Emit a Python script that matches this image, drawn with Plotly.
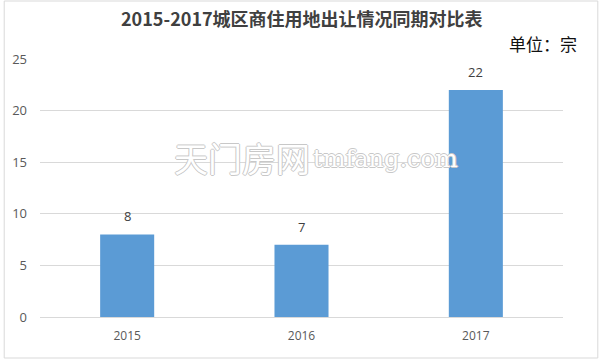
import plotly.graph_objects as go

categories = ["2015", "2016", "2017"]
values = [8, 7, 22]
y_ticks = [0, 5, 10, 15, 20, 25]

W, H = 600, 360
L, R, T, B = 37, 37, 59, 43
pw, ph = W - L - R, H - T - B

font_cn = "Noto Sans CJK SC, Noto Sans, sans-serif"
font_num = "Open Sans, Noto Sans, sans-serif"
outline = "1px 0 0 #c8c8c8, -1px 0 0 #c8c8c8, 0 1px 0 #c8c8c8, 0 -1px 0 #c8c8c8"

fig = go.Figure()
fig.add_trace(go.Bar(
    x=categories, y=values,
    marker=dict(color="#5b9bd5", line=dict(width=0)),
    cliponaxis=False,
))

annotations = [
    dict(text=str(v), x=i, y=v, xref="x", yref="y", yshift=18, showarrow=False,
         font=dict(size=13, color="#404040", family=font_num))
    for i, v in enumerate(values)
]
annotations += [
    dict(text="<b>2015-2017城区商住用地出让情况同期对比表</b>", x=0.5, xref="paper",
         y=(H - B - 18) / ph, yref="paper", yanchor="middle", showarrow=False,
         font=dict(size=18, color="#404040", family=font_cn)),
    dict(text="单位：宗", x=(579 - L) / pw, xref="paper", xanchor="right",
         y=(H - B - 44) / ph, yref="paper", yanchor="middle", showarrow=False,
         font=dict(size=17, color="#111111", family=font_cn)),
    dict(text="天门房网", x=(240 - L) / pw, xref="paper",
         y=(H - B - 157) / ph, yref="paper", showarrow=False,
         font=dict(size=34, color="white", family=font_cn, shadow=outline)),
    dict(text="tmfang.com", x=(384 - L) / pw, xref="paper",
         y=(H - B - 159) / ph, yref="paper", showarrow=False,
         font=dict(size=24, color="white", family="DejaVu Serif, serif", shadow=outline)),
]

fig.update_layout(
    width=W, height=H,
    margin=dict(l=L, r=R, t=T, b=B),
    paper_bgcolor="white", plot_bgcolor="white",
    bargap=0.69,
    showlegend=False,
    xaxis=dict(type="category", range=[-0.5, len(categories) - 0.5], showgrid=False,
               showline=True, linecolor="#d9d9d9", linewidth=1, ticks="",
               ticklabelstandoff=8,
               tickfont=dict(size=12, color="#595959", family=font_num)),
    yaxis=dict(range=[0, 25], tickvals=y_ticks, showgrid=True, gridcolor="#d9d9d9",
               gridwidth=1, zeroline=False, showline=False, ticks="",
               ticklabelstandoff=12,
               tickfont=dict(size=13, color="#595959", family=font_num)),
    annotations=annotations,
    shapes=[dict(type="rect", xref="paper", yref="paper",
                 x0=-(L - 1) / pw, x1=1 + (R - 2) / pw,
                 y0=-(B - 2) / ph, y1=1 + (T - 1) / ph,
                 line=dict(color="#d9d9d9", width=1), fillcolor="rgba(0,0,0,0)")],
)

fig.write_html("out.html")
